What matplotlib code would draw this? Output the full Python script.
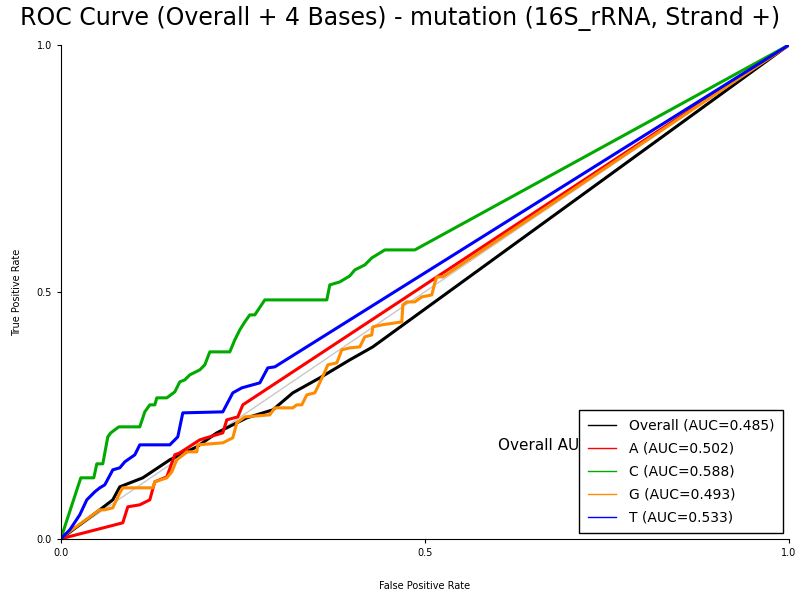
import numpy as np
import matplotlib.pyplot as plt

W, H = 728.0, 494.0
def px(xs, ys):
    return (np.array(xs) - 61) / W, (539 - np.array(ys)) / H

# curve points (pixel coords -> rates)
c_x = [61, 81, 94, 97, 103, 108, 111, 119, 140, 145, 150, 155, 157, 167, 175, 180, 185, 190, 200, 205, 210, 230, 235, 240, 245, 250, 255, 265, 327, 330, 340, 350, 355, 365, 372, 385, 415, 789]
c_y = [539, 478, 478, 464, 464, 437, 433, 427, 427, 412, 405, 405, 398, 398, 392, 382, 380, 375, 370, 365, 352, 352, 340, 330, 322, 315, 315, 300, 300, 285, 282, 276, 270, 265, 258, 250, 250, 45]
t_x = [61, 70, 80, 87, 95, 100, 105, 113, 120, 125, 135, 140, 170, 178, 183, 223, 233, 242, 260, 268, 275, 789]
t_y = [539, 530, 515, 500, 492, 488, 485, 470, 468, 462, 455, 445, 445, 437, 413, 412, 393, 388, 383, 368, 367, 45]
a_x = [61, 123, 128, 140, 150, 155, 167, 175, 180, 200, 223, 227, 238, 243, 789]
a_y = [539, 523, 507, 505, 500, 482, 477, 455, 453, 440, 433, 420, 417, 405, 45]
g_x = [61, 100, 105, 113, 120, 123, 153, 155, 167, 172, 177, 187, 197, 198, 223, 233, 237, 245, 270, 275, 293, 297, 302, 307, 315, 318, 325, 328, 337, 342, 350, 360, 365, 372, 373, 382, 402, 403, 407, 415, 422, 432, 435, 437, 443, 789]
g_y = [538, 510, 510, 508, 493, 488, 488, 482, 478, 472, 460, 452, 452, 445, 443, 438, 423, 417, 415, 408, 408, 405, 405, 395, 393, 387, 372, 365, 363, 350, 348, 347, 337, 335, 327, 325, 322, 305, 302, 302, 297, 295, 283, 277, 277, 45]
o_x = [61, 100, 113, 120, 143, 170, 197, 217, 233, 247, 273, 293, 320, 350, 373, 789]
o_y = [539, 510, 500, 487, 478, 460, 447, 433, 425, 418, 410, 393, 378, 360, 347, 45]

curves = [
    ("Overall (AUC=0.485)", o_x, o_y, "black"),
    ("A (AUC=0.502)", a_x, a_y, "red"),
    ("C (AUC=0.588)", c_x, c_y, "#00aa00"),
    ("G (AUC=0.493)", g_x, g_y, "darkorange"),
    ("T (AUC=0.533)", t_x, t_y, "blue"),
]

fig = plt.figure(figsize=(8, 6), dpi=100)
ax = fig.add_axes([0.076, 0.102, 0.91, 0.823])
ax.plot([0, 1], [0, 1], color="#c8c8c8", lw=1)
handles = []
for lab, xs, ys, col in curves:
    x, y = px(xs, ys)
    ax.plot(x, y, color=col, lw=2.2)
    h, = ax.plot([], [], color=col, lw=1, label=lab)
    handles.append(h)
ax.text(0.6, 0.18, "Overall AUC = 0.485", fontsize=11)
leg = ax.legend(handles=handles, loc="lower right", fontsize=10, fancybox=False,
                edgecolor="black", framealpha=1, borderaxespad=0.4,
                borderpad=0.6, labelspacing=0.65, handletextpad=1.0)
leg.get_frame().set_linewidth(1)
ax.set_xlim(0, 1)
ax.set_ylim(0, 1)
ax.set_xticks([0, 0.5, 1])
ax.set_yticks([0, 0.5, 1])
ax.set_xticklabels(["0.0", "0.5", "1.0"])
ax.set_yticklabels(["0.0", "0.5", "1.0"])
ax.tick_params(labelsize=7, length=3)
ax.spines["top"].set_visible(False)
ax.spines["right"].set_visible(False)
ax.set_xlabel("False Positive Rate", fontsize=7, labelpad=17)
ax.set_ylabel("True Positive Rate", fontsize=7, labelpad=10)
fig.suptitle("ROC Curve (Overall + 4 Bases) - mutation (16S_rRNA, Strand +)", fontsize=17, x=0.5, y=0.99)
fig.savefig("out.png")
